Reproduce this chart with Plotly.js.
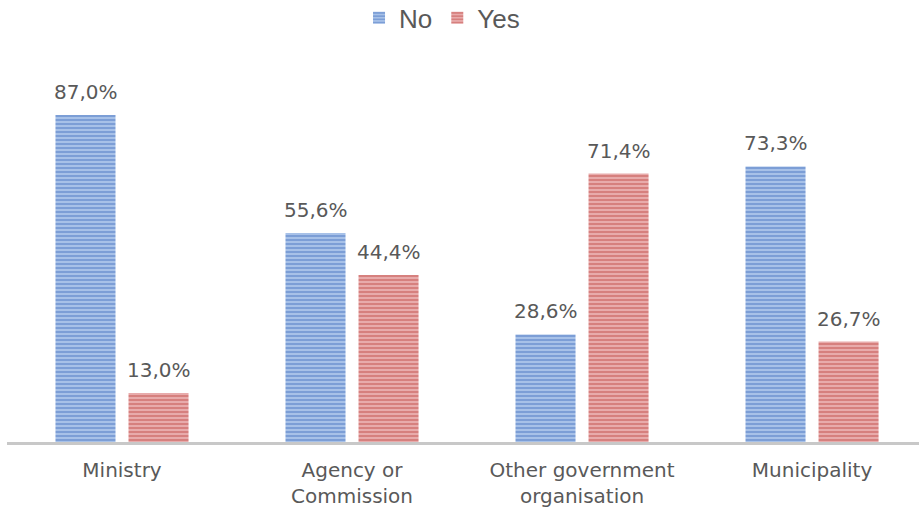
<!DOCTYPE html>
<html>
<head>
<meta charset="utf-8">
<script src="https://cdn.plot.ly/plotly-3.0.1.min.js"></script>
<style>html,body{margin:0;padding:0;background:#fff;}#chart{width:919px;height:510px;}</style>
</head>
<body>
<div id="chart"></div>
<script>
const categories = ["Ministry", "Agency or<br>Commission", "Other government<br>organisation", "Municipality"];
const seriesNames = ["No", "Yes"];
const noValues = [87.0, 55.6, 28.6, 73.3];
const yesValues = [13.0, 44.4, 71.4, 26.7];

function fmt(v) { return v.toFixed(1).replace('.', ',') + '%'; }

const labelFont = {family: "DejaVu Sans", size: 20, color: "#595959"};

const traces = [
  {
    type: "bar", name: seriesNames[0], x: categories, y: noValues,
    marker: {color: "#7fa3da", line: {width: 0},
      pattern: {shape: "-", fgcolor: "#4674bf", bgcolor: "#b2c9ec", size: 4, solidity: 0.6, fillmode: "overlay"}}
  },
  {
    type: "bar", name: seriesNames[1], x: categories, y: yesValues,
    marker: {color: "#d98886", line: {width: 0},
      pattern: {shape: "-", fgcolor: "#bf4a47", bgcolor: "#ecb6b5", size: 4, solidity: 0.6, fillmode: "overlay"}}
  }
];

const annotations = [];
[noValues, yesValues].forEach((vals, si) => {
  vals.forEach((v, i) => {
    annotations.push({
      x: categories[i], y: v, xref: "x", yref: "y",
      text: fmt(v), showarrow: false, yanchor: "bottom",
      xshift: si === 0 ? -36.5 : 36.5, yshift: 9,
      font: labelFont
    });
  });
});

const layout = {
  width: 919, height: 510,
  margin: {l: 7, r: 0, t: 66, b: 68},
  paper_bgcolor: "#ffffff", plot_bgcolor: "#ffffff",
  barmode: "group", bargap: 0.365, bargroupgap: 0.178,
  showlegend: true,
  legend: {orientation: "h", x: 0.477, xanchor: "center", yref: "container", y: 0.965, yanchor: "middle",
    font: {family: "Liberation Sans", size: 26, color: "#595959"}, itemwidth: 30},
  annotations: annotations,
  xaxis: {
    range: [-0.5, 3.465], showgrid: false, zeroline: false,
    showline: true, linecolor: "#c8c8c8", linewidth: 3,
    ticks: "", ticklabelstandoff: 8,
    tickfont: {family: "DejaVu Sans", size: 20, color: "#595959"}
  },
  yaxis: {range: [0, 100], visible: false, showgrid: false, zeroline: false, fixedrange: true}
};

Plotly.newPlot("chart", traces, layout, {displayModeBar: false, staticPlot: true});
</script>
</body>
</html>
